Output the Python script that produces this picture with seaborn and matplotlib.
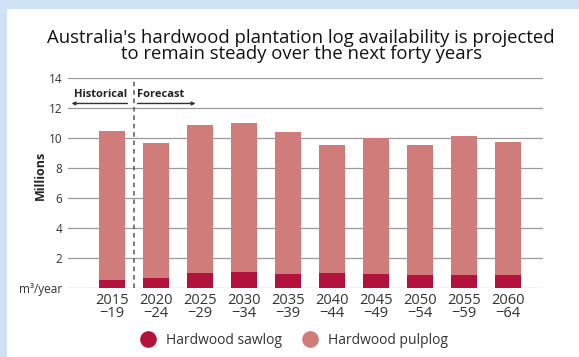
import matplotlib
matplotlib.use("Agg")
import matplotlib.pyplot as plt
import seaborn as sns
import pandas as pd
import numpy as np
from matplotlib.lines import Line2D
from matplotlib.patches import Rectangle

periods = ["2015\n\u221219", "2020\n\u221224", "2025\n\u221229", "2030\n\u221234", "2035\n\u221239",
           "2040\n\u221244", "2045\n\u221249", "2050\n\u221254", "2055\n\u221259", "2060\n\u221264"]
sawlog = [0.51, 0.67, 1.00, 1.05, 0.92, 0.96, 0.92, 0.83, 0.83, 0.83]
pulplog = [9.98, 8.99, 9.89, 9.95, 9.48, 8.57, 9.08, 8.70, 9.32, 8.90]
ytick_vals = [0, 2, 4, 6, 8, 10, 12, 14]
ytick_labels = ["m\u00b3/year", "2", "4", "6", "8", "10", "12", "14"]

SAW = "#b3123d"
PULP = "#d07c7a"

sns.set_theme(style="white")
plt.rcParams["font.family"] = ["Open Sans", "DejaVu Sans"]

df = pd.DataFrame({"period": periods, "sawlog": sawlog, "pulplog": pulplog})
df["total"] = df["sawlog"] + df["pulplog"]

fig = plt.figure(figsize=(5.79, 3.57), dpi=100)
fig.patch.set_facecolor("white")
fig.patches.append(Rectangle((0, 1 - 9 / 357), 1, 9 / 357, transform=fig.transFigure,
                             facecolor="#cfe2f5", edgecolor="none", zorder=0))
fig.patches.append(Rectangle((0, 0), 7 / 579, 1, transform=fig.transFigure,
                             facecolor="#cfe2f5", edgecolor="none", zorder=0))

ax = fig.add_axes([68 / 579, 1 - 287.7 / 357, (543 - 68) / 579, (287.7 - 78) / 357])

for y in ytick_vals:
    ax.axhline(y, color="#9a9a9a", lw=0.9, zorder=0)

sns.barplot(data=df, x="period", y="total", color=PULP, width=0.58, ax=ax,
            saturation=1, edgecolor="none", zorder=2)
sns.barplot(data=df, x="period", y="sawlog", color=SAW, width=0.58, ax=ax,
            saturation=1, edgecolor="none", zorder=3)

ax.set_xlim(-1.0, 9.8)
ax.set_ylim(0, 14)
for s in ax.spines.values():
    s.set_visible(False)
ax.set_xlabel("")
ax.set_ylabel("")
ax.set_yticks(ytick_vals)
ax.set_yticklabels(ytick_labels, fontsize=8.5, color="#333333")
ax.tick_params(axis="y", length=0, pad=4)
ax.tick_params(axis="x", length=3, width=0.8, color="#777777", pad=1, labelsize=10.5, labelcolor="#333333")
for lbl in ax.get_xticklabels():
    lbl.set_linespacing(0.8)

fig.text(40 / 579, 1 - 175 / 357, "Millions", rotation=90, ha="center", va="center",
         fontsize=9, fontweight="bold", color="#222222")

ax.axvline(0.5, ymin=0, ymax=1, color="#555555", lw=1.1, ls=(0, (3, 2.5)), zorder=4)

ax.text(0.35, 12.55, "Historical", ha="right", va="bottom", fontsize=8, fontweight="bold", color="#222222")
ax.text(0.58, 12.55, "Forecast", ha="left", va="bottom", fontsize=8, fontweight="bold", color="#222222")
ax.annotate("", xy=(-0.92, 12.3), xytext=(0.35, 12.3),
            arrowprops=dict(arrowstyle="-|>", color="#333333", lw=1, mutation_scale=5, shrinkA=0, shrinkB=0))
ax.annotate("", xy=(1.9, 12.3), xytext=(0.58, 12.3),
            arrowprops=dict(arrowstyle="-|>", color="#333333", lw=1, mutation_scale=5, shrinkA=0, shrinkB=0))

fig.text(0.52, 1 - 46 / 357, "Australia's hardwood plantation log availability is projected\nto remain steady over the next forty years",
         ha="center", va="center", fontsize=13.3, color="#111111", linespacing=0.92)

handles = [Line2D([], [], marker="o", ls="none", markersize=12, markerfacecolor=SAW, markeredgecolor="none"),
           Line2D([], [], marker="o", ls="none", markersize=12, markerfacecolor=PULP, markeredgecolor="none")]
fig.legend(handles, ["Hardwood sawlog", "Hardwood pulplog"], loc="center", bbox_to_anchor=(0.503, 1 - 340 / 357),
           ncol=2, frameon=False, fontsize=10, handletextpad=0.3, columnspacing=1.0, labelcolor="#333333")

fig.savefig("out.png", dpi=100, facecolor="white")
